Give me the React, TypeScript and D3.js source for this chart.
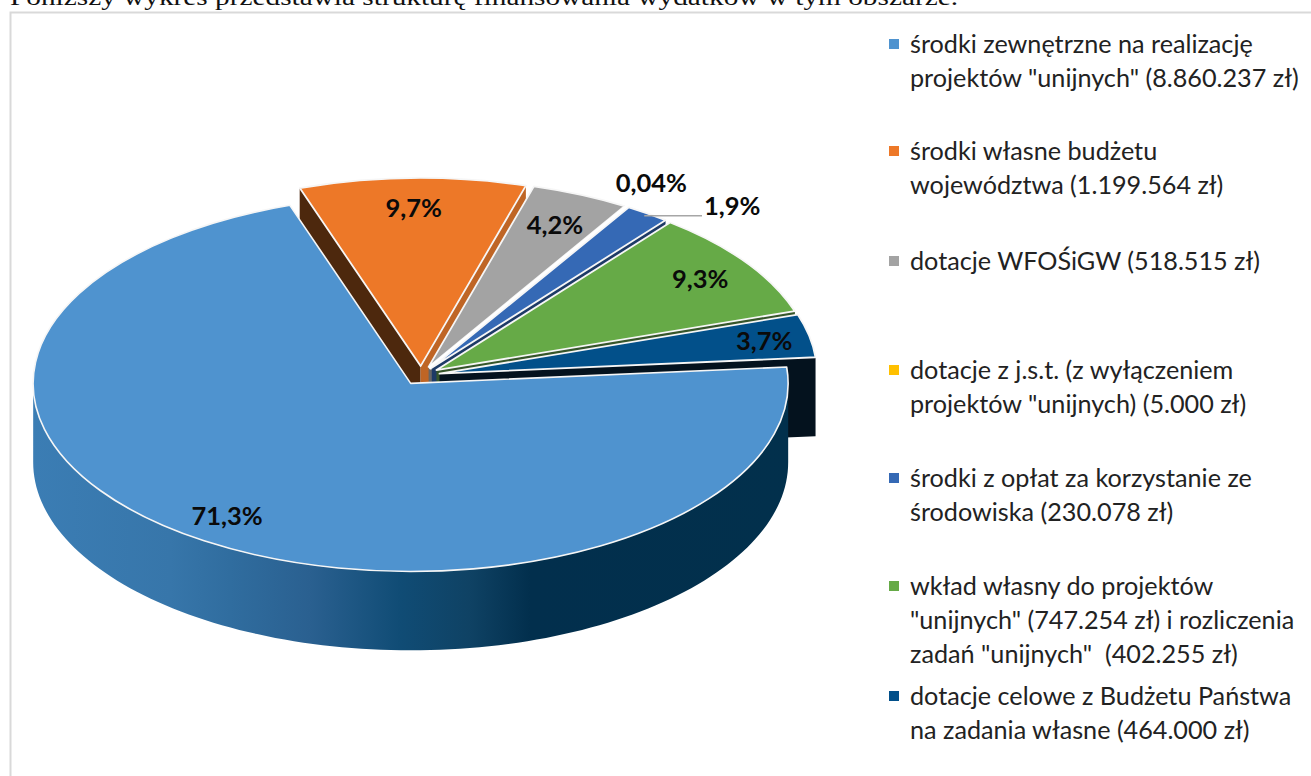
import React from "react";
import * as d3 from "d3";

const W = 1311, H = 776;

// ---- data ----
const sliceNames = [
  "środki zewnętrzne",
  "środki własne",
  "dotacje WFOŚiGW",
  "dotacje z j.s.t.",
  "środki z opłat",
  "wkład własny",
  "dotacje celowe",
];
const shares = [71.3, 9.7, 4.2, 0.04, 1.9, 9.3, 3.7];
const shareLabels = ["71,3%", "9,7%", "4,2%", "0,04%", "1,9%", "9,3%", "3,7%"];
const topColors = ["#4f93cf", "#ed7828", "#a3a3a3", "#ffc000", "#3569b5", "#66aa47", "#02508a"];
const startWallColors = ["#02304d", "#4d280d", "#666666", "#7f6000", "#1d3a66", "#35552a", "#04121e"];
const endWallColors = ["#02304d", "#bf6525", "#666666", "#7f6000", "#1d3a66", "#35552a", "#04121e"];
const legendLines = [
  ["środki zewnętrzne na realizację", 'projektów "unijnych" (8.860.237 zł)'],
  ["środki własne budżetu", "województwa (1.199.564 zł)"],
  ["dotacje WFOŚiGW (518.515 zł)"],
  ["dotacje z j.s.t. (z wyłączeniem", 'projektów "unijnych) (5.000 zł)'],
  ["środki z opłat za korzystanie ze", "środowiska (230.078 zł)"],
  ["wkład własny do projektów", '"unijnych" (747.254 zł) i rozliczenia', 'zadań "unijnych"  (402.255 zł)'],
  ["dotacje celowe z Budżetu Państwa", "na zadania własne (464.000 zł)"],
];
const caption = "Poniższy wykres przedstawia strukturę finansowania wydatków w tym obszarze.";

// ---- layout ----
const legendTops = [44, 151, 261, 370, 478, 586, 696];
const legendStep = 34.2;
const labelRadius = [0.851, 0.846, 0.832, 1.145, 1.175, 0.853, 0.878];
const labelTurn = [1.7, 0, 0, -0.7, 7.8, 0, 0];
const CX = 421, CY = 375.5, RX = 377.5, RY = 188, DEPTH = 79, EXPLODE = 0.05;
const START_DEG = 85;

const rad = (d: number) => (d * Math.PI) / 180;
const pie = d3
  .pie<number>()
  .sort(null)
  .startAngle(rad(START_DEG))
  .endAngle(rad(START_DEG + 360));
const arcs = pie(shares);
const unitArc = d3.arc<any>().innerRadius(0).outerRadius(1);

const sliceCenter = (a: d3.PieArcDatum<number>) => {
  const m = (a.startAngle + a.endAngle) / 2;
  return [CX + RX * EXPLODE * Math.sin(m), CY - RY * EXPLODE * Math.cos(m)];
};
const project = (c: number[], t: number, r = 1, dy = 0): [number, number] => [
  c[0] + RX * r * Math.sin(t),
  c[1] - RY * r * Math.cos(t) + dy,
];

const wallPath = (c: number[], t: number) => {
  const line = d3.line();
  return (
    line([
      [c[0], c[1]],
      project(c, t),
      project(c, t, 1, DEPTH),
      [c[0], c[1] + DEPTH],
    ]) + "Z"
  );
};

const rimPath = (c: number[], t0: number, t1: number) => {
  const steps = d3.range(0, 121).map((i) => t0 + ((t1 - t0) * i) / 120);
  const top = steps.map((t) => project(c, t));
  const bottom = steps.map((t) => project(c, t, 1, DEPTH)).reverse();
  return d3.line()([...top, ...bottom]) + "Z";
};

const rimStops: [number, string][] = [
  [33, "#3b7db4"],
  [170, "#3776aa"],
  [230, "#306d9f"],
  [310, "#2a6090"],
  [400, "#104c75"],
  [470, "#0f4264"],
  [530, "#022f4d"],
  [790, "#02304c"],
];

export default function App() {
  const order = [1, 2, 3, 4, 5, 6, 0];
  const leaderA = arcs[4];
  const leaderC = sliceCenter(leaderA);
  const leaderStart = project(leaderC, (leaderA.startAngle + leaderA.endAngle) / 2, 0.985);
  const leaderEnd: [number, number] = [702, leaderStart[1]];
  return (
    <svg
      width={W}
      height={H}
      viewBox={`0 0 ${W} ${H}`}
      style={{ position: "absolute", left: 0, top: 0, display: "block", background: "#fff" }}
    >
      <defs>
        <linearGradient id="rim" gradientUnits="userSpaceOnUse" x1={33} x2={790} y1={0} y2={0}>
          {rimStops.map(([x, c]) => (
            <stop key={x} offset={(x - 33) / (790 - 33)} stopColor={c} />
          ))}
        </linearGradient>
      </defs>
      <text
        x={10}
        y={5}
        fontFamily="'Liberation Serif', serif"
        fontSize={24}
        fill="#111"
        textLength={948}
        lengthAdjust="spacingAndGlyphs"
      >
        {caption}
      </text>
      <path d={`M10.5 ${H}V12.5H${W}`} fill="none" stroke="#d9d9d9" strokeWidth={2} />

      {order.map((i) => {
        const a = arcs[i];
        const c = sliceCenter(a);
        const t0 = a.startAngle, t1 = a.endAngle;
        const isSliver = shares[i] < 0.1;
        return (
          <g key={sliceNames[i]}>
            {!isSliver && Math.sin(t0) < 0 && <path d={wallPath(c, t0)} fill={startWallColors[i]} />}
            {!isSliver && Math.sin(t1) > 0 && <path d={wallPath(c, t1)} fill={endWallColors[i]} />}
            {i === 0 && <path d={rimPath(c, rad(90), rad(270))} fill="url(#rim)" />}
            <path
              d={unitArc(a) as string}
              transform={`translate(${c[0]},${c[1]}) scale(${RX},${RY})`}
              fill={isSliver ? "#ffffff" : topColors[i]}
              stroke={isSliver ? "#ffffff" : "#f6f6f6"}
              strokeWidth={isSliver ? 4 : i === 0 ? 1.6 : 1.8}
              vectorEffect="non-scaling-stroke"
              strokeLinejoin="round"
            />
          </g>
        );
      })}

      <path d={d3.line()([leaderStart, leaderEnd]) as string} stroke="#a6a6a6" strokeWidth={1.5} fill="none" />

      {arcs.map((a, i) => {
        const c = sliceCenter(a);
        const m = (a.startAngle + a.endAngle) / 2 + rad(labelTurn[i]);
        const [x, y] = project(c, m, labelRadius[i]);
        return (
          <text
            key={shareLabels[i]}
            x={x}
            y={y}
            textAnchor="middle"
            dominantBaseline="central"
            fontFamily="Lato, sans-serif"
            fontWeight={700}
            fontSize={25.5}
            fill="#0a0a0a"
          >
            {shareLabels[i]}
          </text>
        );
      })}

      {legendLines.map((lines, i) => (
        <g key={lines[0]}>
          <rect x={889} y={legendTops[i] - 5} width={10} height={10} fill={topColors[i]} />
          {lines.map((l, j) => (
            <text
              key={l}
              x={910}
              y={legendTops[i] + j * legendStep + 9}
              fontFamily="Lato, sans-serif"
              fontSize={25.2}
              fill="#222"
              xmlSpace="preserve"
            >
              {l}
            </text>
          ))}
        </g>
      ))}
    </svg>
  );
}
